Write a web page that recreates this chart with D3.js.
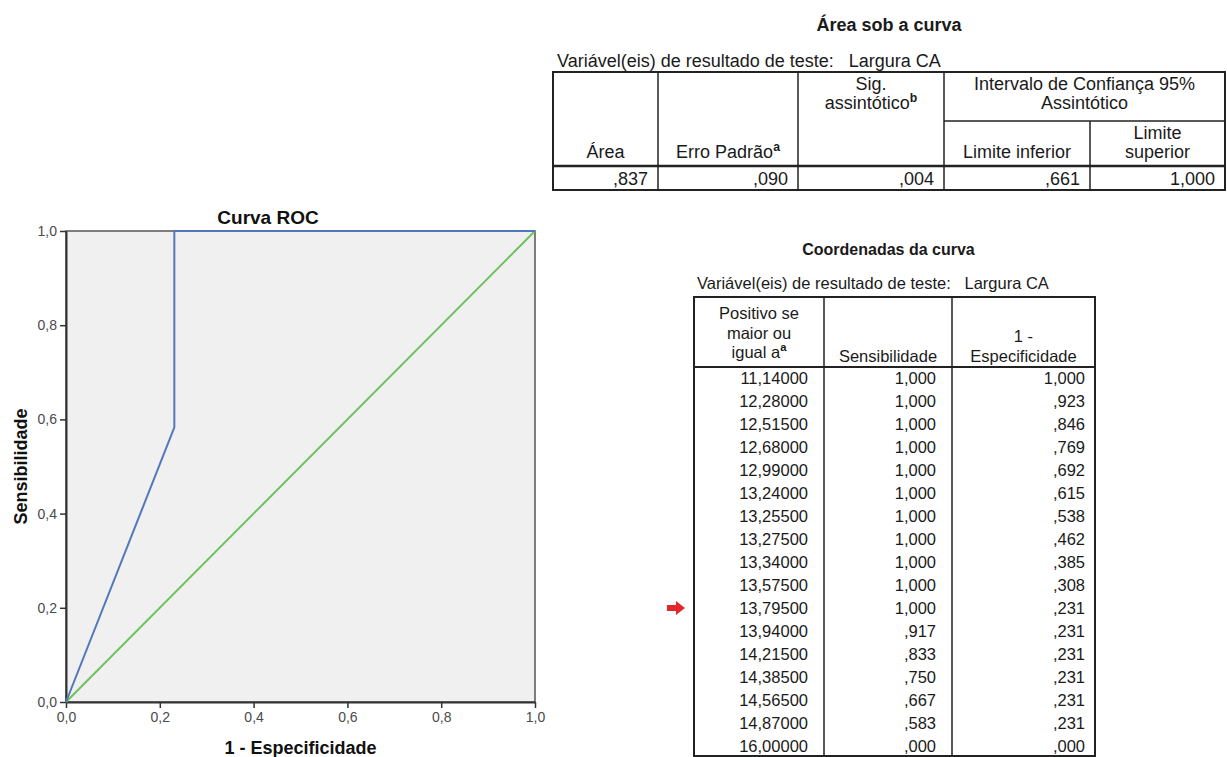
<!DOCTYPE html>
<html>
<head>
<meta charset="utf-8">
<script src="https://cdn.jsdelivr.net/npm/d3@7"></script>
<style>
  body { margin: 0; background: #fff; }
  svg { display: block; font-family: "Liberation Sans", Arial, sans-serif; }
</style>
</head>
<body>
<svg id="chart" width="1227" height="757"></svg>
<script>
// ---------------- DATA ----------------
const thresholds = [11.14, 12.28, 12.515, 12.68, 12.99, 13.24, 13.255, 13.275, 13.34, 13.575, 13.795, 13.94, 14.215, 14.385, 14.565, 14.87, 16.0];
const sensitivity = [1, 1, 1, 1, 1, 1, 1, 1, 1, 1, 1, 0.917, 0.833, 0.750, 0.667, 0.583, 0];
const oneMinusSpec = [1, 0.923, 0.846, 0.769, 0.692, 0.615, 0.538, 0.462, 0.385, 0.308, 0.231, 0.231, 0.231, 0.231, 0.231, 0.231, 0];
const referenceLine = [0, 1];
const axisTicks = [0, 0.2, 0.4, 0.6, 0.8, 1.0];
const markedRow = 10; // 13,79500
const aucValues = [0.837, 0.090, 0.004, 0.661, 1.000];

const chartTitle = "Curva ROC";
const xTitle = "1 - Especificidade";
const yTitle = "Sensibilidade";
const aucTitle = "Área sob a curva";
const coordTitle = "Coordenadas da curva";
const testVarText = "Variável(eis) de resultado de teste:\u00a0\u00a0\u00a0Largura CA";

// ---------------- HELPERS ----------------
const fmt1 = v => d3.format(".1f")(v).replace(".", ",");
const fmt3 = v => { const s = d3.format(".3f")(v).replace(".", ","); return v < 1 ? s.replace(/^0/, "") : s; };
const fmt5 = v => d3.format(".5f")(v).replace(".", ",");

const svg = d3.select("#chart");
svg.append("rect").attr("width", 1227).attr("height", 757).attr("fill", "#fff");

// ---------------- ROC CHART ----------------
const x = d3.scaleLinear().domain([0, 1]).range([66, 535]);
const y = d3.scaleLinear().domain([0, 1]).range([702, 231]);

svg.append("rect")
  .attr("x", x(0)).attr("y", y(1))
  .attr("width", x(1) - x(0)).attr("height", y(0) - y(1))
  .attr("fill", "#f0f0f0").attr("stroke", "#555").attr("stroke-width", 1.5);

const styleAxis = g => {
  g.select(".domain").attr("stroke", "#333").attr("stroke-width", 2);
  g.selectAll(".tick line").attr("stroke", "#333").attr("stroke-width", 1.5);
  g.selectAll(".tick text").attr("fill", "#4a4a4a").attr("font-size", 14)
    .attr("font-family", "'Liberation Sans', Arial, sans-serif");
};

svg.append("g").attr("transform", `translate(0,${y(0)})`)
  .call(d3.axisBottom(x).tickValues(axisTicks).tickFormat(fmt1).tickSize(6).tickSizeOuter(0).tickPadding(4))
  .call(styleAxis);
svg.append("g").attr("transform", `translate(${x(0)},0)`)
  .call(d3.axisLeft(y).tickValues(axisTicks).tickFormat(fmt1).tickSize(6).tickSizeOuter(0).tickPadding(3))
  .call(styleAxis);

// reference diagonal
svg.append("path")
  .datum(referenceLine.map(v => [v, v]))
  .attr("d", d3.line().x(d => x(d[0])).y(d => y(d[1])))
  .attr("fill", "none").attr("stroke", "#6fc160").attr("stroke-width", 2);

// ROC curve
svg.append("path")
  .datum(oneMinusSpec.map((v, i) => [v, sensitivity[i]]))
  .attr("d", d3.line().x(d => x(d[0])).y(d => y(d[1])))
  .attr("fill", "none").attr("stroke", "#5078bb").attr("stroke-width", 2);

svg.append("text").attr("x", 268).attr("y", 224)
  .attr("text-anchor", "middle").attr("font-weight", "bold").attr("font-size", 19).attr("fill", "#111")
  .text(chartTitle);
svg.append("text").attr("x", (x(0) + x(1)) / 2).attr("y", 754)
  .attr("text-anchor", "middle").attr("font-weight", "bold").attr("font-size", 18).attr("fill", "#111")
  .text(xTitle);
svg.append("text").attr("transform", `translate(27,${(y(0) + y(1)) / 2}) rotate(-90)`)
  .attr("text-anchor", "middle").attr("font-weight", "bold").attr("font-size", 18).attr("fill", "#111")
  .text(yTitle);

// ---------------- TABLE HELPERS ----------------
const ink = "#1a1a1a";
function line(g, x1, y1, x2, y2, w) {
  g.append("line").attr("x1", x1).attr("y1", y1).attr("x2", x2).attr("y2", y2)
    .attr("stroke", "#222").attr("stroke-width", w);
}
function txt(g, xx, yy, s, anchor, fs, opts = {}) {
  const t = g.append("text").attr("x", xx).attr("y", yy).attr("text-anchor", anchor)
    .attr("font-size", fs).attr("fill", ink);
  if (opts.bold) t.attr("font-weight", "bold");
  t.append("tspan").text(s);
  if (opts.sup) t.append("tspan").attr("font-size", fs * 0.68).attr("font-weight", "bold")
    .attr("dy", -fs * 0.4).text(opts.sup);
  return t;
}

// ---------------- TABLE 1: AUC ----------------
const t1 = svg.append("g");
const c1 = [553, 658, 798, 944, 1090, 1225];
const T1 = { top: 72, div: 121, head: 166, bottom: 190 };
const fs1 = 18;
txt(t1, (c1[0] + c1[5]) / 2, 31, aucTitle, "middle", 18, { bold: true });
txt(t1, c1[0] + 4, 67, testVarText, "start", fs1);
t1.append("rect").attr("x", c1[0]).attr("y", T1.top).attr("width", c1[5] - c1[0]).attr("height", T1.bottom - T1.top)
  .attr("fill", "none").attr("stroke", "#222").attr("stroke-width", 2);
[1, 2, 3].forEach(i => line(t1, c1[i], T1.top, c1[i], T1.bottom, 1.5));
line(t1, c1[4], T1.div, c1[4], T1.bottom, 1.5);
line(t1, c1[3], T1.div, c1[5], T1.div, 1.5);
line(t1, c1[0], T1.head, c1[5], T1.head, 2.5);
const mid = i => (c1[i] + c1[i + 1]) / 2;
txt(t1, mid(0), 158, "Área", "middle", fs1);
txt(t1, mid(1), 158, "Erro Padrão", "middle", fs1, { sup: "a" });
txt(t1, mid(2), 90, "Sig.", "middle", fs1);
txt(t1, mid(2), 109, "assintótico", "middle", fs1, { sup: "b" });
txt(t1, (c1[3] + c1[5]) / 2, 90, "Intervalo de Confiança 95%", "middle", fs1);
txt(t1, (c1[3] + c1[5]) / 2, 109, "Assintótico", "middle", fs1);
txt(t1, mid(3), 158, "Limite inferior", "middle", fs1);
txt(t1, mid(4), 139, "Limite", "middle", fs1);
txt(t1, mid(4), 158, "superior", "middle", fs1);
aucValues.forEach((v, i) => txt(t1, c1[i + 1] - 10, 184.5, fmt3(v), "end", fs1));

// ---------------- TABLE 2: COORDINATES ----------------
const t2 = svg.append("g");
const c2 = [694, 824, 952, 1095];
const T2 = { top: 297, head: 367, bottom: 756, row0: 378, rowH: 23 };
const fs2 = 16.5;
const pads2 = [16, 16, 10];
txt(t2, (c2[0] + c2[3]) / 2 - 6, 255, coordTitle, "middle", 16, { bold: true });
txt(t2, c2[0] + 3, 289, testVarText, "start", fs2);
t2.append("rect").attr("x", c2[0]).attr("y", T2.top).attr("width", c2[3] - c2[0]).attr("height", T2.bottom - T2.top)
  .attr("fill", "none").attr("stroke", "#222").attr("stroke-width", 2);
[1, 2].forEach(i => line(t2, c2[i], T2.top, c2[i], T2.bottom, 1.5));
line(t2, c2[0], T2.head, c2[3], T2.head, 2);
const m2 = i => (c2[i] + c2[i + 1]) / 2;
txt(t2, m2(0), 319, "Positivo se", "middle", fs2);
txt(t2, m2(0), 339, "maior ou", "middle", fs2);
txt(t2, m2(0), 358, "igual a", "middle", fs2, { sup: "a" });
txt(t2, m2(1), 362, "Sensibilidade", "middle", fs2);
txt(t2, m2(2), 342, "1 -", "middle", fs2);
txt(t2, m2(2), 362, "Especificidade", "middle", fs2);

const rowY = i => T2.row0 + i * T2.rowH;
thresholds.forEach((v, i) => {
  const by = rowY(i) + 6;
  txt(t2, c2[1] - pads2[0], by, fmt5(v), "end", fs2);
  txt(t2, c2[2] - pads2[1], by, fmt3(sensitivity[i]), "end", fs2);
  txt(t2, c2[3] - pads2[2], by, fmt3(oneMinusSpec[i]), "end", fs2);
});

// red arrow marking chosen cut-off
const ay = rowY(markedRow);
t2.append("path")
  .attr("d", `M667,${ay - 3} L676,${ay - 3} L676,${ay - 7} L685,${ay} L676,${ay + 7} L676,${ay + 3} L667,${ay + 3} Z`)
  .attr("fill", "#e3262b");
</script>
</body>
</html>
